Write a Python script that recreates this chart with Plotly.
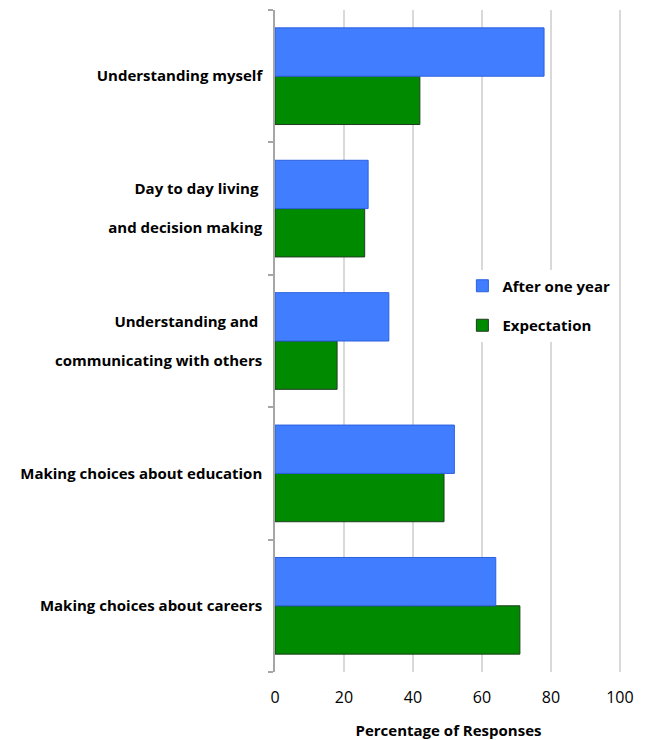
import plotly.graph_objects as go

# categories listed bottom -> top
categories = [
    "Making choices about careers",
    "Making choices about education",
    "Understanding and <br><br>communicating with others",
    "Day to day living <br><br>and decision making",
    "Understanding myself",
]
after_one_year = [64, 52, 33, 27, 78]
expectation = [71, 49, 18, 26, 42]

font_family = "Open Sans, Lato, sans-serif"

fig = go.Figure()
fig.add_trace(go.Bar(
    y=categories, x=expectation, name="Expectation", orientation="h",
    marker=dict(color="#008a00", line=dict(color="#1f3d1f", width=1)),
    legendgroup="b", legendrank=2,
))
fig.add_trace(go.Bar(
    y=categories, x=after_one_year, name="After one year", orientation="h",
    marker=dict(color="#417dff", line=dict(color="#2b60e0", width=1)),
    legendgroup="a", legendrank=1,
))

# page body adds an 8px offset, so the figure is 8px smaller
fig.update_layout(
    width=641, height=732,
    margin=dict(l=267, r=27, t=2, b=68),
    paper_bgcolor="white", plot_bgcolor="white",
    barmode="group", bargap=0.27, bargroupgap=0,
    font=dict(family=font_family, color="black"),
    showlegend=True,
    legend=dict(
        x=0.54, y=0.608, xanchor="left", yanchor="top",
        bgcolor="white", traceorder="grouped", tracegroupgap=17,
        itemwidth=30,
        font=dict(size=15, family=font_family, weight="bold"),
    ),
    xaxis=dict(
        range=[0, 100.6], tickvals=[0, 20, 40, 60, 80, 100],
        showgrid=True, gridcolor="#d9d9d9", gridwidth=1.5,
        zeroline=False, showline=False, ticks="", automargin=False,
        tickfont=dict(size=16), ticklabelstandoff=14,
        title=dict(text="Percentage of Responses", standoff=18,
                   font=dict(size=15, weight="bold")),
    ),
    yaxis=dict(
        categoryorder="array", categoryarray=categories, automargin=False,
        showline=True, linecolor="#a6a6a6", linewidth=1.5,
        ticks="outside", tickson="boundaries", ticklen=5, tickcolor="#a6a6a6",
        tickwidth=1.5, ticklabelstandoff=8,
        tickfont=dict(size=15, weight="bold"), showgrid=False,
    ),
)

fig.write_html("out.html")
